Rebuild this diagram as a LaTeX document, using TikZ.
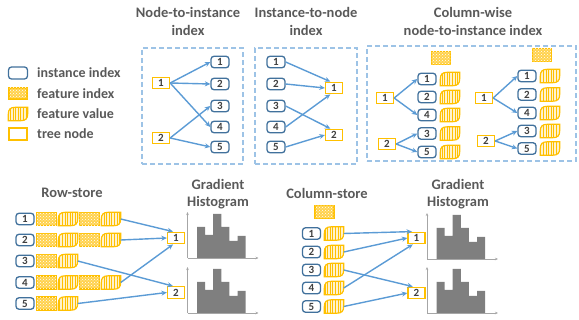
\documentclass[tikz,border=0pt]{standalone}
\usepackage{fontspec}
\setmainfont{Carlito}
\usetikzlibrary{arrows.meta,patterns,patterns.meta}
\definecolor{instC}{HTML}{41719C}
\definecolor{orC}{HTML}{FFC000}
\definecolor{fvbg}{HTML}{FFF2CC}
\definecolor{fidxbg}{HTML}{FFD24D}
\definecolor{arrC}{HTML}{5B9BD5}
\definecolor{dashC}{HTML}{9DC3E6}
\definecolor{txtC}{HTML}{595959}
\definecolor{numC}{HTML}{404040}
\definecolor{barC}{HTML}{7F7F7F}
\definecolor{axisC}{HTML}{A6A6A6}
\tikzset{
  inst/.style={draw=instC, line width=1.3pt, rounded corners=3pt, minimum width=18pt, minimum height=11.5pt, inner sep=0pt, font=\bfseries\fontsize{11}{11}\selectfont, text=numC, fill=white},
  tnode/.style={draw=orC, line width=1.3pt, minimum width=17pt, minimum height=11.5pt, inner sep=0pt, font=\bfseries\fontsize{11}{11}\selectfont, text=numC, fill=white},
  fidx/.style={draw=orC, line width=1.2pt, minimum width=19pt, minimum height=12.5pt, inner sep=0pt, fill=fidxbg, postaction={pattern=crosshatch dots, pattern color=white}},
  fvnode/.style={minimum width=19pt, minimum height=13pt, inner sep=0pt},
  fvpath/.style={draw=orC, line width=1.2pt, fill=fvbg, postaction={pattern={Lines[angle=90,distance=2.6pt,line width=0.8pt]}, pattern color=orC}},
  arr/.style={draw=arrC, line width=1.4pt, -{Stealth[length=5.5pt,width=5pt]}},
  dbox/.style={draw=dashC, line width=1.3pt, dash pattern=on 5pt off 3pt, inner sep=0pt},
  title/.style={font=\bfseries\fontsize{14.5}{17.5}\selectfont, text=txtC, align=center},
  legtext/.style={font=\bfseries\fontsize{14}{15}\selectfont, text=txtC, anchor=west, inner sep=0pt},
  axisline/.style={draw=axisC, line width=0.7pt, -{Stealth[length=3pt,width=2.5pt]}},
  hist/.pic={
    \fill[barC] (9.5,0) -- (9.5,-31) -- (17.6,-31) -- (17.6,-23) -- (25.7,-23) -- (25.7,-44) -- (33.8,-44) -- (33.8,-31) -- (41.9,-31) -- (41.9,-17) -- (50,-17) -- (50,-22) -- (58.1,-22) -- (58.1,0) -- cycle;
    \draw[axisline] (0,0) -- (0,-46);
    \draw[axisline] (0,0) -- (71,0);
  }
}
\newcommand\fvleaf[3]{%
  \node[fvnode] (#1) at (#2,#3) {};
  \path[fvpath] (#1.south west) -- ([yshift=-7pt]#1.north west) .. controls ([yshift=-2pt]#1.north west) and ([xshift=2pt]#1.north west) .. ([xshift=7pt]#1.north west) -- (#1.north east) -- ([yshift=7pt]#1.south east) .. controls ([yshift=2pt]#1.south east) and ([xshift=-2pt]#1.south east) .. ([xshift=-7pt]#1.south east) -- cycle;
}
\begin{document}
\begin{tikzpicture}[x=1pt,y=-1pt]
\useasboundingbox (0,0) rectangle (579,320);

% ---------- legend ----------
\node[inst, minimum width=19pt, minimum height=12pt] (lgi) at (18,73) {};
\node[legtext] (lgit) at (37,73) {instance index};
\node[fidx, minimum width=18pt, minimum height=11pt] (lgf) at (18,93.5) {};
\node[legtext] (lgft) at (37,93.5) {feature index};
\fvleaf{lgv}{18}{114}
\node[legtext] (lgvt) at (37,114) {feature value};
\node[tnode, minimum width=18pt, minimum height=12pt] (lgt) at (18,134) {};
\node[legtext] (lgtt) at (37,134) {tree node};

% ---------- titles ----------
\node[title] (ti1) at (188,21.5) {Node-to-instance\\index};
\node[title] (ti2) at (306,21.5) {Instance-to-node\\index};
\node[title] (ti3) at (473,21.5) {Column-wise\\node-to-instance index};

% ---------- dashed boxes ----------
\node[dbox, minimum width=101pt, minimum height=116pt] (box1) at (192.5,106) {};
\node[dbox, minimum width=102pt, minimum height=116pt] (box2) at (306,106) {};
\node[dbox, minimum width=209pt, minimum height=115pt] (box3) at (471.5,103.5) {};

% ---------- box 1: node-to-instance ----------
\node[tnode] (a1) at (161,83) {1};
\node[tnode] (a2) at (161,138) {2};
\node[inst] (ai1) at (220,62) {1};
\node[inst] (ai2) at (220,84) {2};
\node[inst] (ai3) at (220,106) {3};
\node[inst] (ai4) at (220,127) {4};
\node[inst] (ai5) at (220,147) {5};
\draw[arr] (a1.east) -- (ai1.west);
\draw[arr] (a1.east) -- (ai2.west);
\draw[arr] (a1.east) -- (ai4.west);
\draw[arr] (a2.east) -- (ai3.west);
\draw[arr] (a2.east) -- (ai5.west);

% ---------- box 2: instance-to-node ----------
\node[inst] (bi1) at (276,62) {1};
\node[inst] (bi2) at (276,84) {2};
\node[inst] (bi3) at (276,106) {3};
\node[inst] (bi4) at (276,127) {4};
\node[inst] (bi5) at (276,147) {5};
\node[tnode] (b1) at (334,88) {1};
\node[tnode] (b2) at (334,135) {2};
\draw[arr] (bi1.east) -- (b1.120);
\draw[arr] (bi2.east) -- (b1.west);
\draw[arr] (bi4.east) -- (b1.240);
\draw[arr] (bi3.east) -- (b2.120);
\draw[arr] (bi5.east) -- (b2.west);

% ---------- box 3: column-wise ----------
\node[fidx] (cf) at (441,58) {};
\node[tnode] (c1) at (385,98) {1};
\node[tnode] (c2) at (387,144) {2};
\node[inst] (ci1) at (427,79) {1};
\node[inst] (ci2) at (427,97) {2};
\node[inst] (ci4) at (427,115) {4};
\node[inst] (ci3) at (427,133.5) {3};
\node[inst] (ci5) at (427,152) {5};
\fvleaf{cv1}{450}{79}
\fvleaf{cv2}{450}{97}
\fvleaf{cv4}{450}{115}
\fvleaf{cv3}{450}{133.5}
\fvleaf{cv5}{450}{152}
\draw[arr] (c1.east) -- (ci1.west);
\draw[arr] (c1.east) -- (ci4.west);
\draw[arr] (c2.east) -- (ci3.west);
\draw[arr] (c2.east) -- (ci5.west);

\node[fidx] (df) at (542,55) {};
\node[tnode] (d1) at (484,98) {1};
\node[tnode] (d2) at (486,141) {2};
\node[inst] (di1) at (527,76) {1};
\node[inst] (di2) at (527,94.5) {2};
\node[inst] (di4) at (527,113) {4};
\node[inst] (di3) at (527,131) {3};
\node[inst] (di5) at (527,148.5) {5};
\fvleaf{dv1}{550}{76}
\fvleaf{dv2}{550}{94.5}
\fvleaf{dv4}{550}{113}
\fvleaf{dv3}{550}{131}
\fvleaf{dv5}{550}{148.5}
\draw[arr] (d1.east) -- (di1.west);
\draw[arr] (d1.east) -- (di4.west);
\draw[arr] (d2.east) -- (di3.west);
\draw[arr] (d2.east) -- (di5.west);

% ---------- row-store ----------
\node[title] (tr) at (72,193) {Row-store};
\node[title] (tg1) at (218,194) {Gradient\\Histogram};
\node[inst] (r1) at (25,219) {1};
\node[inst] (r2) at (25,240) {2};
\node[inst] (r3) at (25,261) {3};
\node[inst] (r4) at (25,282.5) {4};
\node[inst] (r5) at (25,303.5) {5};
\node[fidx, minimum width=20pt, minimum height=13pt] (r1a) at (46.5,219) {};
\fvleaf{r1b}{68}{219}
\node[fidx, minimum width=20pt, minimum height=13pt] (r1c) at (89.5,219) {};
\fvleaf{r1d}{111}{219}
\node[fidx, minimum width=20pt, minimum height=13pt] (r2a) at (46.5,240) {};
\fvleaf{r2b}{68}{240}
\node[fidx, minimum width=20pt, minimum height=13pt] (r2c) at (89.5,240) {};
\fvleaf{r2d}{111}{240}
\node[fidx, minimum width=20pt, minimum height=13pt] (r3a) at (46.5,261) {};
\fvleaf{r3b}{68}{261}
\node[fidx, minimum width=20pt, minimum height=13pt] (r4a) at (46.5,282.5) {};
\fvleaf{r4b}{68}{282.5}
\node[fidx, minimum width=20pt, minimum height=13pt] (r4c) at (89.5,282.5) {};
\fvleaf{r4d}{111}{282.5}
\node[fidx, minimum width=20pt, minimum height=13pt] (r5a) at (46.5,303.5) {};
\fvleaf{r5b}{68}{303.5}
\node[tnode] (e1) at (176,238) {1};
\node[tnode] (e2) at (176,292.5) {2};
\draw[arr] (r1d.east) -- (e1.115);
\draw[arr] (r2d.east) -- (e1.west);
\draw[arr] (r4d.east) -- (e1.245);
\draw[arr] (r3b.east) -- (e2.115);
\draw[arr] (r5b.east) -- (e2.west);
\pic (h1) at (187.5,258) {hist};
\pic (h2) at (187.5,313) {hist};

% ---------- column-store ----------
\node[title] (tc) at (327,193) {Column-store};
\node[title] (tg2) at (458,194) {Gradient\\Histogram};
\node[fidx] (sf) at (324.5,212) {};
\node[inst] (s1) at (311.5,233.5) {1};
\node[inst] (s2) at (311.5,252) {2};
\node[inst] (s3) at (311.5,270) {3};
\node[inst] (s4) at (311.5,288) {4};
\node[inst] (s5) at (311.5,306.5) {5};
\fvleaf{sv1}{334}{233.5}
\fvleaf{sv2}{334}{252}
\fvleaf{sv3}{334}{270}
\fvleaf{sv4}{334}{288}
\fvleaf{sv5}{334}{306.5}
\node[tnode] (f1) at (416.5,238) {1};
\node[tnode] (f2) at (416.5,293) {2};
\draw[arr] (sv1.east) -- (f1.125);
\draw[arr] (sv2.east) -- (f1.west);
\draw[arr] (sv4.east) -- (f1.240);
\draw[arr] (sv3.east) -- (f2.120);
\draw[arr] (sv5.east) -- (f2.west);
\pic (h3) at (427,259) {hist};
\pic (h4) at (427,313) {hist};
\end{tikzpicture}
\end{document}
